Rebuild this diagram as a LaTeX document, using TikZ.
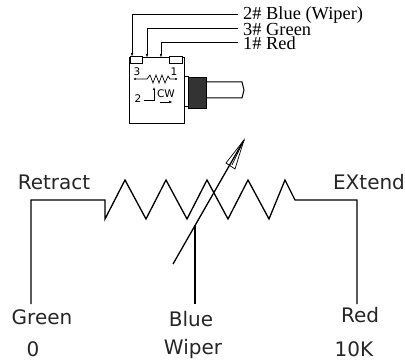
\documentclass[tikz,border=0pt]{standalone}
\usepackage{fontspec}
\setmainfont{DejaVu Sans}
\newfontfamily\partfont{Liberation Serif}
\usetikzlibrary{arrows.meta}
\tikzstyle{wire} = [draw, line width=1.3pt, -, black]
\tikzstyle{thin wire} = [draw, line width=0.7pt, -, black]
\tikzstyle{lead} = [draw, line width=0.8pt, -{Latex[length=4pt,width=2.5pt]}, black]
\tikzstyle{sch text} = [inner sep=0pt, font=\fontsize{20pt}{22pt}\selectfont, text=black!85]
\tikzstyle{part text} = [inner sep=0pt, anchor=west, font=\partfont\fontsize{18.4pt}{19pt}\selectfont]
\tikzstyle{pin text} = [inner sep=0pt, font=\fontsize{10.5pt}{11pt}\selectfont]
\tikzstyle{body} = [draw, line width=1pt, fill=white]

\begin{document}
\begin{tikzpicture}[x=1pt,y=-1pt]
       \useasboundingbox (0,0) rectangle (405,361);
       % schematic
       \foreach \pos/\name/\txt in {{(54,182)/retract/Retract}, {(369,182)/extend/EXtend}, {(42,317)/green/Green}, {(191,319)/blue/Blue}, {(360,315)/red/Red}, {(33,349)/zero/0}, {(193,349)/wiper/Wiper}, {(354,349)/ohms/10K}} {
           \node[sch text] (\name) at \pos {\txt};
       }
       \foreach \pos/\name in {{(31,304)/gnd}, {(195,304)/wip}, {(357,304)/top}, {(195,225)/tap}, {(173,264)/tail}, {(244,140)/tip}} {
           \node[coordinate] (\name) at \pos {};
       }
       \path[wire] (gnd) -- (31,200) -- (105,200) -- (105,219) -- (125,180) -- (146,219) -- (166,180) -- (187,219) -- (207,180) -- (228,219) -- (248,180) -- (269,219) -- (285,180) -- (295,200) -- (357,200) -- (top);
       \path[wire] (wip) -- (tap);
       \path[wire] (tail) -- (tip);
       \path[thin wire] (tip) -- (226,163) -- (235,169) -- cycle;
       \path[thin wire] (tip) -- (232,165);
       % part drawing
       \path[body] (184,77) rectangle (188,107);
       \path[body] (206,82) -- (242,82) -- (244,90) -- (242,98) -- (206,98) -- cycle;
       \path[draw, fill=black!80] (188,77) rectangle (206,108);
       \path[body] (129,58) rectangle (184,124);
       \path[body] (130,57) rectangle (142,64);
       \path[body] (169,57) rectangle (182,64);
       \foreach \pos/\name/\txt in {{(243,15)/bluepin/2\# Blue (Wiper)}, {(243,29)/greenpin/3\# Green}, {(243,43)/redpin/1\# Red}} {
           \node[part text] (\name) at \pos {\txt};
       }
       \path[lead] (bluepin.west) ++(-5,-0.5) -- (132,14.5) -- (132,57);
       \path[lead] (greenpin.west) ++(-5,-0.5) -- (147,28.5) -- (147,58);
       \path[lead] (redpin.west) ++(-5,-1) -- (161,42) -- (161,58);
       \foreach \pos/\name/\txt in {{(137,72)/three/3}, {(174,72)/one/1}, {(138,99)/two/2}, {(166,94)/cw/CW}} {
           \node[pin text] (\name) at \pos {\txt};
       }
       \path[thin wire] (135,79) -- (147,79) -- (150,75) -- (153,83) -- (156,75) -- (159,83) -- (162,75) -- (165,83) -- (168,76) -- (170,79) -- (176,79);
       \fill (135,79) circle (1.1pt) (176,79) circle (1.1pt);
       \path[draw, line width=0.7pt, -{Latex[length=3pt,width=2.5pt]}] (two.east) ++(2,1) -- (154,100) -- (154,87);
       \path[draw, line width=0.7pt, -{Latex[length=4pt,width=2.5pt]}] (160,102) -- (173,102);
\end{tikzpicture}
\end{document}
